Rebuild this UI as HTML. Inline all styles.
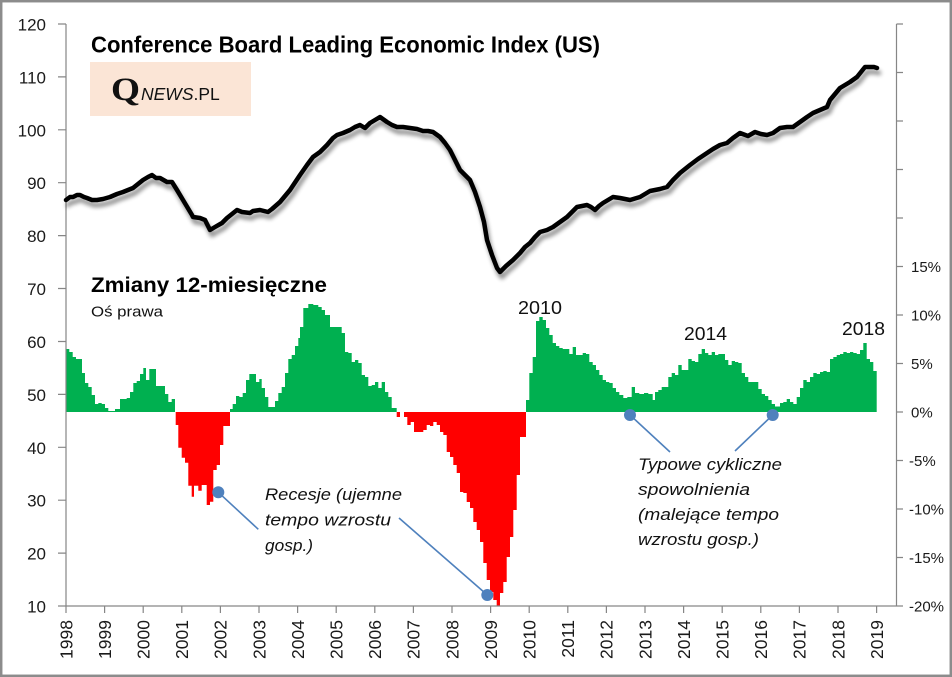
<!DOCTYPE html>
<html><head><meta charset="utf-8"><style>
html,body{margin:0;padding:0;background:#fff;}
svg{display:block;}
text{font-family:"Liberation Sans",sans-serif;}
</style></head><body>
<svg width="952" height="677" viewBox="0 0 952 677" xmlns="http://www.w3.org/2000/svg">
<defs>
<filter id="sh" x="-5%" y="-10%" width="110%" height="130%">
<feGaussianBlur in="SourceAlpha" stdDeviation="2"/>
<feOffset dx="2" dy="5" result="o"/>
<feComponentTransfer><feFuncA type="linear" slope="0.45"/></feComponentTransfer>
<feMerge><feMergeNode/><feMergeNode in="SourceGraphic"/></feMerge>
</filter>
</defs>
<rect x="0" y="0" width="952" height="677" fill="#fff"/>
<rect x="1.2" y="1.2" width="949.6" height="674.6" fill="none" stroke="#8c8c8c" stroke-width="2.5"/>

<!-- logo -->
<rect x="90" y="62" width="161" height="54" fill="#fbe5d6"/>
<text x="111" y="100" font-size="33" font-weight="bold" style="font-family:'Liberation Serif',serif" fill="#111" textLength="29" lengthAdjust="spacingAndGlyphs">Q</text>
<text x="141" y="100" font-size="17.5" fill="#111"><tspan font-style="italic">NEWS</tspan><tspan>.PL</tspan></text>

<!-- titles -->
<text x="91" y="52.5" font-size="23" font-weight="bold" fill="#000" textLength="509" lengthAdjust="spacingAndGlyphs">Conference Board Leading Economic Index (US)</text>
<text x="91" y="292" font-size="21" font-weight="bold" fill="#000" textLength="236" lengthAdjust="spacingAndGlyphs">Zmiany 12-miesięczne</text>
<text x="91" y="316.5" font-size="14.5" fill="#111" textLength="72" lengthAdjust="spacingAndGlyphs">Oś prawa</text>

<!-- bars -->
<g fill="#00b050">
<path d="M66,412 V349 H69.3 V352 H72.7 V357 H76 V359 H82 V373 H85 V383 H88.3 V387 H91.7 V395 H95 V404 H98.3 V403 H101.7 V404 H105 V408 H108.3 V411 H115 V409 H120 V399 H126.7 V398 H130 V392 H133.3 V383 H136.7 V381 H140 V374 H143.3 V368 H146 V380 H149.3 V369 H156 V386 H161.7 V386 H165 V394 H168.3 V402 H171.7 V399 H175 V412 Z"/>
<path d="M230,412 V409 H232.7 V404 H236 V396 H239.3 V397 H242.7 V393 H246 V380 H249.3 V374 H256 V382 H259.3 V379 H261.7 V388 H265 V397 H268.3 V407 H275 V401 H278.3 V393 H281.7 V387 H285 V373 H288.3 V359 H291.7 V355 H295 V346 H298.3 V338 H300 V327 H303.3 V308 H308.3 V304 H313.3 V305 H318.3 V307 H321.7 V310 H325 V315 H330 V327 H341.7 V333 H345 V352 H348.3 V353 H351.7 V362 H355 V360 H358.3 V363 H361.7 V375 H365 V377 H368.3 V386 H371.7 V385 H375 V382 H378.3 V388 H381.7 V382 H385 V392 H388.3 V397 H391.7 V408 H396.7 V412 Z"/>
<path d="M526,412 V400 H529.3 V373 H532.7 V357 H536 V321 H539.3 V317 H542.7 V320 H546 V328 H549.3 V335 H552.7 V343 H556 V346 H559.3 V348 H562.7 V349 H569.3 V354 H572.7 V347 H576 V355 H582.7 V353 H586 V354 H589.3 V362 H592.7 V365 H596 V370 H599.3 V375 H602.7 V380 H606 V382 H609.3 V383 H612.7 V388 H616 V392 H619.3 V395 H623.3 V398 H627.3 V397 H631.7 V387 H635 V393 H639.3 V394 H644 V393 H648.3 V394 H652.7 V400 H655 V392 H658.3 V390 H661.7 V387 H668.3 V377 H671.7 V373 H675 V375 H678.3 V365 H681.7 V370 H688.3 V359 H691.7 V361 H695 V362 H698.3 V354 H701.7 V349 H705 V353 H708.3 V355 H711.7 V352 H715 V355 H718.3 V354 H725 V360 H728.3 V365 H731.7 V361 H735 V362 H738.3 V363 H741.7 V373 H745 V377 H748.3 V382 H758.3 V389 H761.7 V394 H765 V396 H768.3 V400 H771.7 V404 H775 V406.5 H780 V403 H783.3 V402 H786.7 V399 H790 V402 H793.3 V404 H796.7 V397 H800 V388 H803.3 V380 H806.7 V382 H810 V377 H813.3 V373 H816.7 V374 H820 V372 H823.3 V371 H826.7 V372 H830 V359 H833.3 V357 H836.7 V355 H840 V354 H843.3 V352 H846.7 V353 H850 V352 H853.3 V353 H856.7 V354 H860 V350 H863.3 V343 H866.7 V359 H870 V362 H873.3 V371 H876.7 V412 Z"/>
</g>
<g fill="#ff0000">
<path d="M175.7,412 V425 H178.3 V447.7 H181.7 V457.7 H185 V462.7 H188.3 V485.7 H191.7 V496.7 H194 V485.7 H198.3 V490.7 H201.7 V485 H206.7 V505 H210 V501.7 H213.3 V470 H216.7 V465 H220 V445 H223.3 V426 H230 V412 Z"/>
<path d="M396.7,412 V417 H400 V412 H404 V417 H407.3 V425 H410.7 V422 H414 V432 H423.3 V430 H426.7 V425 H430 V426 H433.3 V422 H436.7 V425 H440 V432 H443.3 V435 H446.7 V452 H450 V457 H453.3 V465 H456.7 V473 H460 V492 H463.3 V493 H466.7 V502 H470 V508 H473.3 V522 H476.7 V530 H480 V542 H483.3 V563 H486.7 V580 H490 V592 H493.3 V600 H496.7 V606 H500 V593 H503.3 V582 H506.7 V557 H510 V537 H513.3 V510 H516.7 V475 H520 V437 H526 V412 Z"/>
</g>

<!-- axes -->
<g stroke="#868686" stroke-width="1.2" fill="none">
<line x1="66" y1="24" x2="66" y2="606"/>
<line x1="66" y1="606" x2="896.5" y2="606"/>
<line x1="896.5" y1="24" x2="896.5" y2="606"/>
<path d="M58,24H66M58,76.9H66M58,129.8H66M58,182.7H66M58,235.6H66M58,288.5H66M58,341.5H66M58,394.4H66M58,447.3H66M58,500.2H66M58,553.1H66M58,606H66"/>
<path d="M896.5,24H903M896.5,72.5H903M896.5,121H903M896.5,169.5H903M896.5,218H903M896.5,266.5H903M896.5,315H903M896.5,363.5H903M896.5,412H903M896.5,460.5H903M896.5,509H903M896.5,557.5H903M896.5,606H903"/>
<path d="M66,606V613M104.6,606V613M143.2,606V613M181.8,606V613M220.4,606V613M259,606V613M297.6,606V613M336.2,606V613M374.8,606V613M413.4,606V613M452,606V613M490.6,606V613M529.2,606V613M567.8,606V613M606.4,606V613M645,606V613M683.6,606V613M722.2,606V613M760.8,606V613M799.4,606V613M838,606V613M876.6,606V613"/>
</g>

<!-- left labels -->
<g font-size="17" fill="#1a1a1a" text-anchor="end">
<text x="46" y="30.5">120</text>
<text x="46" y="83.4">110</text>
<text x="46" y="136.3">100</text>
<text x="46" y="189.2">90</text>
<text x="46" y="242.1">80</text>
<text x="46" y="295">70</text>
<text x="46" y="348">60</text>
<text x="46" y="400.9">50</text>
<text x="46" y="453.8">40</text>
<text x="46" y="506.7">30</text>
<text x="46" y="559.6">20</text>
<text x="46" y="612.5">10</text>
</g>
<!-- right labels -->
<g font-size="15" fill="#1a1a1a">
<text x="911" y="272">15%</text>
<text x="911" y="320.5">10%</text>
<text x="911" y="369">5%</text>
<text x="911" y="417.5">0%</text>
<text x="909" y="466">-5%</text>
<text x="909" y="514.5">-10%</text>
<text x="909" y="563">-15%</text>
<text x="909" y="611.5">-20%</text>
</g>
<!-- year labels -->
<g font-size="17.5" fill="#1a1a1a" text-anchor="end">
<text transform="translate(66,620) rotate(-90)" dy="0.36em">1998</text>
<text transform="translate(104.6,620) rotate(-90)" dy="0.36em">1999</text>
<text transform="translate(143.2,620) rotate(-90)" dy="0.36em">2000</text>
<text transform="translate(181.8,620) rotate(-90)" dy="0.36em">2001</text>
<text transform="translate(220.4,620) rotate(-90)" dy="0.36em">2002</text>
<text transform="translate(259,620) rotate(-90)" dy="0.36em">2003</text>
<text transform="translate(297.6,620) rotate(-90)" dy="0.36em">2004</text>
<text transform="translate(336.2,620) rotate(-90)" dy="0.36em">2005</text>
<text transform="translate(374.8,620) rotate(-90)" dy="0.36em">2006</text>
<text transform="translate(413.4,620) rotate(-90)" dy="0.36em">2007</text>
<text transform="translate(452,620) rotate(-90)" dy="0.36em">2008</text>
<text transform="translate(490.6,620) rotate(-90)" dy="0.36em">2009</text>
<text transform="translate(529.2,620) rotate(-90)" dy="0.36em">2010</text>
<text transform="translate(567.8,620) rotate(-90)" dy="0.36em">2011</text>
<text transform="translate(606.4,620) rotate(-90)" dy="0.36em">2012</text>
<text transform="translate(645,620) rotate(-90)" dy="0.36em">2013</text>
<text transform="translate(683.6,620) rotate(-90)" dy="0.36em">2014</text>
<text transform="translate(722.2,620) rotate(-90)" dy="0.36em">2015</text>
<text transform="translate(760.8,620) rotate(-90)" dy="0.36em">2016</text>
<text transform="translate(799.4,620) rotate(-90)" dy="0.36em">2017</text>
<text transform="translate(838,620) rotate(-90)" dy="0.36em">2018</text>
<text transform="translate(876.6,620) rotate(-90)" dy="0.36em">2019</text>
</g>

<!-- LEI line -->
<polyline filter="url(#sh)" fill="none" stroke="#000" stroke-width="4.5" stroke-linejoin="round" stroke-linecap="round" points="66,200 70,197 73,197 77,195 80,195 84,197 87,198 92,200 97,200 103,199 110,197 117,194 123,192 128,190 133,188 138,184 143,180 148,177 152,175 156,178 160,178 167,182 172,182 177,190 183,200 192,215 193,217 200,218 205,220 210,230 215,227 222,223 227,218 237,210 242,212 250,213 253,211 260,210 268,212 272,209 280,202 290,190 300,175 307,165 313,157 320,152 327,145 333,138 337,135 343,133 350,130 355,127 360,125 365,128 370,123 375,120 380,117 387,122 392,125 397,127 403,127 410,128 417,129 423,131 428,131 433,132 440,137 445,143 450,150 455,160 460,170 465,175 470,180 475,192 480,207 484,222 487,240 492,255 497,268 500,272 506,266 513,260 520,253 525,247 530,243 535,237 540,232 547,230 553,227 560,222 567,217 572,212 577,207 582,206 587,205 591,207 595,210 599,206 603,203 608,200 613,197 620,198 630,200 640,197 650,191 660,189 667,187 673,180 680,173 685,169 690,165 698,159 707,153 713,149 720,145 727,143 733,138 740,133 748,136 755,132 761,134 767,135 773,133 780,128 787,127 793,127 800,122 807,117 813,113 820,110 827,107 830,100 835,94 840,88 845,85 850,82 857,77 861,72 865,67 870,67 874,67 877,68"/>

<!-- annotation labels -->
<g font-size="18" fill="#111">
<text x="518" y="314" textLength="44" lengthAdjust="spacingAndGlyphs">2010</text>
<text x="684" y="340" textLength="43" lengthAdjust="spacingAndGlyphs">2014</text>
<text x="842" y="335" textLength="43" lengthAdjust="spacingAndGlyphs">2018</text>
</g>
<g font-size="17" font-style="italic" fill="#111">
<text x="265" y="500" textLength="137" lengthAdjust="spacingAndGlyphs">Recesje (ujemne</text>
<text x="265" y="525.5" textLength="126" lengthAdjust="spacingAndGlyphs">tempo wzrostu</text>
<text x="265" y="551" textLength="48" lengthAdjust="spacingAndGlyphs">gosp.)</text>
<text x="638" y="470" textLength="144" lengthAdjust="spacingAndGlyphs">Typowe cykliczne</text>
<text x="638" y="495" textLength="112" lengthAdjust="spacingAndGlyphs">spowolnienia</text>
<text x="638" y="520" textLength="141" lengthAdjust="spacingAndGlyphs">(malejące tempo</text>
<text x="638" y="545" textLength="121" lengthAdjust="spacingAndGlyphs">wzrostu gosp.)</text>
</g>

<!-- connectors -->
<g stroke="#4f81bd" stroke-width="1.6">
<line x1="218.3" y1="492.3" x2="258.3" y2="529.3"/>
<line x1="487.3" y1="595" x2="399" y2="518"/>
<line x1="630" y1="415" x2="670" y2="452"/>
<line x1="772.7" y1="415" x2="735" y2="451"/>
</g>
<g fill="#4f81bd">
<circle cx="218.3" cy="492.3" r="6"/>
<circle cx="487.3" cy="595" r="6"/>
<circle cx="630" cy="415" r="6"/>
<circle cx="772.7" cy="415" r="6"/>
</g>
</svg>
</body></html>
